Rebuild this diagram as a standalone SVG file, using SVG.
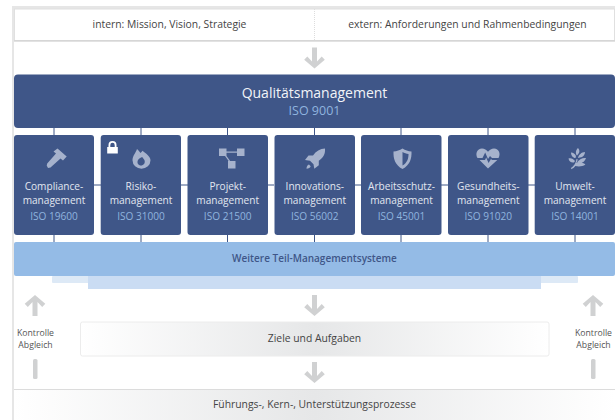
<svg xmlns="http://www.w3.org/2000/svg" width="615" height="420" viewBox="0 0 615 420">
<defs>
<linearGradient id="gz" x1="0" x2="1" y1="0" y2="0"><stop offset="0" stop-color="#ffffff"/><stop offset="0.5" stop-color="#e6e7e8"/><stop offset="1" stop-color="#ffffff"/></linearGradient>
<path id="ad" d="M-2.500 -10.500H2.500V3.500L7.200 -1.400L10.300 1.700L0 10.500L-10.300 1.700L-7.200 -1.400L-2.500 3.500Z" fill="#d0d1d2"/>
</defs>
<style>
text{font-family:"Open Sans","DejaVu Sans",sans-serif;text-anchor:middle}
.n{fill:#3f5688}
.t{font-size:10.100px;fill:#e2e7f0}
.i{font-size:10.100px;fill:#8fb4df}
.d{font-size:10.350px;fill:#444}
.k{font-size:8.700px;fill:#555}
.g{fill:#a6b2cc}
.c{stroke:#3f5688;stroke-width:1;fill:none}
</style>
<rect width="615" height="420" fill="#fff"/>
<path d="M12 6H615V9H14V420H12Z" fill="#e6e6e6"/>
<g id="top-box">
<rect x="14.500" y="9" width="600" height="32" fill="#fff" stroke="#e0e0e0"/>
<rect x="14" y="40" width="601" height="1.500" fill="#d6d6d6"/>
<line x1="314.500" y1="9" x2="314.500" y2="41" stroke="#ddd" stroke-dasharray="1 1"/>
<text class="d" x="169.500" y="28">intern: Mission, Vision, Strategie</text>
<text class="d" x="467.500" y="28">extern: Anforderungen und Rahmenbedingungen</text>
</g>
<g id="connectors">
<path class="c" d="M54 128V135M141 128V135M227.500 128V135M314.500 128V135M401 128V135M488 128V135M575 128V135M54 235V242M141 235V242M227.500 235V242M314.500 235V242M401 235V242M488 235V242M575 235V242M94 185H101M181 185H188M268 185H274M355 185H361M441 185H448M528 185H535"/>
<use href="#ad" x="314.500" y="58"/>
<use href="#ad" x="314.500" y="305.500"/>
<use href="#ad" x="314.500" y="372.500"/>
<use href="#ad" transform="translate(35 305.500) rotate(180)"/>
<use href="#ad" transform="translate(593 305.500) rotate(180)"/>
<rect x="33" y="359" width="4.500" height="20" rx="1.500" fill="#d0d1d2"/>
<rect x="591" y="359" width="4.500" height="20" rx="1.500" fill="#d0d1d2"/>
</g>
<g id="qm">
<rect class="n" x="14" y="74.500" width="601" height="53.500" rx="4"/>
<text x="314.500" y="98" font-size="14" font-weight="500" fill="#f2f4f8">Qualitätsmanagement</text>
<text x="314.500" y="115" font-size="12.500" fill="#8fb4df">ISO 9001</text>
</g>
<g id="compliance">
<rect class="n" x="14" y="135" width="80" height="100" rx="3"/>
<path class="g" d="M57.500 148.500L66.700 156.500L63 160.500L60.500 158.500L50.500 167.500L48 168L46.700 165.500L47.200 163.500L56 153.500L53.500 151.500Z"/>
<text class="t" x="54" y="189.500">Compliance-</text><text class="t" x="54" y="203.500">management</text><text class="i" x="54" y="220">ISO 19600</text>
</g>
<g id="risiko">
<rect class="n" x="100.700" y="135" width="80.300" height="100" rx="3"/>
<path fill="#fff" d="M108.500 147v-2a4 4 0 0 1 8 0v2h1.300v6.500h-10.600V147zm1.800 0h4.400v-2a2.200 2.200 0 0 0-4.400 0z"/>
<path class="g" fill-rule="evenodd" d="M137 149c1.500 1.500 2.500 2.500 3.500 4 1-.8 1.500-1.500 2-2.200 3 2.500 8 5.500 8 9.500a9 8.500 0 0 1-18 0c0-4.500 3.200-7.300 4.500-11.300zm4.500 8c-1 1.500-2.500 1-3.500 3-1.500 3 .5 5.500 3 5.500s4.500-2.500 3.500-5.300c-.5-1.200-1.500-1.700-2-3-.5 0-.5 0-1 .3z"/>
<text class="t" x="141" y="189.500">Risiko-</text><text class="t" x="141" y="203.500">management</text><text class="i" x="141" y="220">ISO 31000</text>
</g>
<g id="projekt">
<rect class="n" x="187.500" y="135" width="80.500" height="100" rx="3"/>
<path class="g" d="M219 148.500h7.500v7.500h-7.500zM237 148.500h7.500v7.500h-7.500zM228 161h7.500v7.500H228z"/>
<path d="M226 151.500h11.500v1.300H226zM225 156l4 5.500 1-.8-3.500-4.700z" class="g"/>
<text class="t" x="227.700" y="189.500">Projekt-</text><text class="t" x="227.700" y="203.500">management</text><text class="i" x="227.700" y="220">ISO 21500</text>
</g>
<g id="innovation">
<rect class="n" x="274.500" y="135" width="80.500" height="100" rx="3"/>
<path class="g" d="M325 148.500c-5 .3-9 2.500-12 7h-4.500l-3.500 4.500 5 .8 3.500 3.500.8 4.500 4.500-3.500v-4.500c4.500-3 6.700-7 6.200-12.300zM309 164.500c-1.500 .5-2.500 2-2.500 4.200 2.200 0 3.700-1 4.200-2.500z"/>
<text class="t" x="314.800" y="189.500">Innovations-</text><text class="t" x="314.800" y="203.500">management</text><text class="i" x="314.800" y="220">ISO 56002</text>
</g>
<g id="arbeitsschutz">
<rect class="n" x="361" y="135" width="80.500" height="100" rx="3"/>
<path class="g" fill-rule="evenodd" d="M402.500 148.500c3 1.800 5.500 2.800 9 3 .3 7-1.500 13.500-9 17.500-7.500-4-9.300-10.500-9-17.500 3.500-.2 6-1.200 9-3zm0 3.500v13.500c4.800-2.800 6-7 6-11.500-2.300-.3-4-1-6-2z"/>
<text class="t" x="401.500" y="189.500">Arbeitsschutz-</text><text class="t" x="401.500" y="203.500">management</text><text class="i" x="401.500" y="220">ISO 45001</text>
</g>
<g id="gesundheit">
<rect class="n" x="448" y="135" width="80.500" height="100" rx="3"/>
<path class="g" d="M488 168.500l-8.500-8.500h5.500l1.200-2.500 2.300 5.500 2.500-4 1 1h5.300zM477.500 158c-2.500-4-.5-9.500 4.500-9.500 2.500 0 4.500 1.300 6 3.200 1.500-1.900 3.500-3.200 6-3.200 5 0 7 5.500 4.500 9.500h-6.500l-2-2-2 3-2.800-6.500-2.700 5.500z"/>
<text class="t" x="488.300" y="189.500">Gesundheits-</text><text class="t" x="488.300" y="203.500">management</text><text class="i" x="488.300" y="220">ISO 91020</text>
</g>
<g id="umwelt">
<rect class="n" x="534.700" y="135" width="80.300" height="100" rx="3"/>
<path class="g" d="M578 148c1.800 1.800 2 4 .3 6l-1.300 1.500c-1.800-2-1.300-5.500 1-7.500zM571 152.500c2.300 0 4 1.300 5 3.500l-.5 2c-2.500 0-4.500-2.500-4.500-5.500zM585 152c0 3-2 5.200-5 5.500l-2 .5c.5-3 3.500-6 7-6zM568.500 158.500c2.500-.8 5 .5 6.500 2.500l-1 1.500c-2.800 .5-5-1-5.500-4zM586 158c-.8 3-3.200 5-6.500 5l-2.500-.5c1.800-3 5.500-5 9-4.500zM571 168c2.500-1.500 5-5 5.500-9l1.200 .3c-.2 1.500-.7 2.700-1.300 3.700 3-1 6.600-.5 9 1.500-3 2.300-7.400 2.300-10 1.500-1.200 1.500-2.400 2.500-4 3.200z"/>
<text class="t" x="575" y="189.500">Umwelt-</text><text class="t" x="575" y="203.500">management</text><text class="i" x="575" y="220">ISO 14001</text>
</g>
<g id="weitere">
<rect x="52" y="276" width="526" height="7" rx="1" fill="#dde9f6"/>
<rect x="88" y="276" width="453" height="13" fill="#cadcf3"/>
<rect x="14" y="242" width="601" height="34" rx="2" fill="#94bbe6"/>
<text x="314.500" y="261.500" font-size="10" font-weight="600" fill="#3f5688">Weitere Teil-Managementsysteme</text>
</g>
<g id="kontrolle-links"><text class="k" x="35.500" y="336">Kontrolle</text><text class="k" x="35.500" y="347.500">Abgleich</text></g>
<g id="kontrolle-rechts"><text class="k" x="593.500" y="336">Kontrolle</text><text class="k" x="593.500" y="347.500">Abgleich</text></g>
<g id="ziele">
<rect x="80.500" y="322" width="468.500" height="34" rx="2" fill="url(#gz)" stroke="#ececec"/>
<text class="d" x="314.500" y="342">Ziele und Aufgaben</text>
</g>
<g id="prozesse">
<rect x="14" y="389.500" width="601" height="30.500" fill="url(#gz)"/>
<rect x="14" y="389" width="601" height="1" fill="#dcdcdc"/>
<text class="d" x="314.500" y="408">Führungs-, Kern-, Unterstützungsprozesse</text>
</g>
</svg>
